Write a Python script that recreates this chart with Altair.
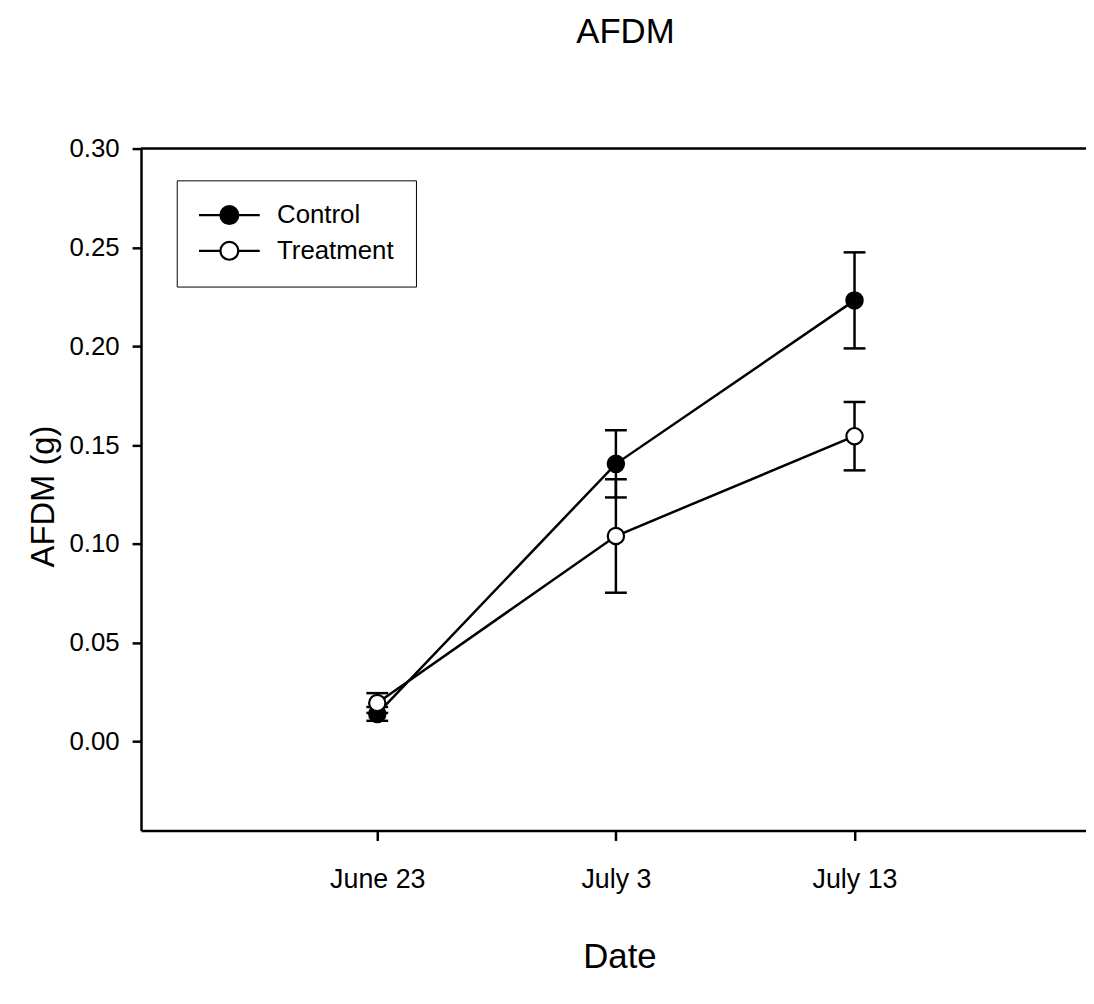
import altair as alt
import pandas as pd

# ---- data ----
date_labels = ["June 23", "July 3", "July 13"]
day_offsets = [0, 10, 20]            # days after June 23
series_names = ["Control", "Treatment"]
control_mean = [0.0140, 0.1405, 0.2232]
control_err = [0.0035, 0.0170, 0.0243]
treatment_mean = [0.0195, 0.1040, 0.1545]
treatment_err = [0.0050, 0.0287, 0.0173]
y_ticks = [0.00, 0.05, 0.10, 0.15, 0.20, 0.25, 0.30]

rows = []
for name, means, errs in zip(series_names, [control_mean, treatment_mean], [control_err, treatment_err]):
    for d, lab, m, e in zip(day_offsets, date_labels, means, errs):
        rows.append({"series": name, "day": d, "date": lab, "mean": m, "lo": m - e, "hi": m + e})
df = pd.DataFrame(rows)
frame_df = pd.DataFrame({"top": [max(y_ticks)]})

FONT = "Liberation Sans"
label_expr = " : ".join(
    f"datum.value == {d} ? '{lab}'" for d, lab in zip(day_offsets, date_labels)
) + " : ''"

x_scale = alt.Scale(domain=[-9.9, 29.7], nice=False, zero=False)
y_scale = alt.Scale(domain=[-0.045, 0.30], nice=False, zero=False)

x_axis = alt.Axis(
    values=day_offsets, labelExpr=label_expr, title="Date", grid=False,
    domainColor="black", domainWidth=2.5, tickColor="black", tickWidth=2.5, tickSize=10,
    labelFont=FONT, labelFontSize=27, labelColor="black", labelPadding=26,
    titleFont=FONT, titleFontSize=35, titleFontWeight="normal", titleColor="black",
    titleX=482, titleY=138, titleBaseline="alphabetic", titleAnchor="start", titleAlign="center",
)
y_axis = alt.Axis(
    values=y_ticks, format=".2f", title="AFDM (g)", grid=False,
    domainColor="black", domainWidth=2.5, tickColor="black", tickWidth=2.5, tickSize=9,
    labelFont=FONT, labelFontSize=26, labelColor="black", labelPadding=13,
    titleFont=FONT, titleFontSize=33, titleFontWeight="normal", titleColor="black",
    titleX=-88, titleY=350, titleBaseline="alphabetic", titleAngle=270, titleAlign="center",
)

X = alt.X("day:Q", scale=x_scale, axis=x_axis)

base = alt.Chart(df)

lines = base.mark_line(color="black", strokeWidth=2.5).encode(
    x=X,
    y=alt.Y("mean:Q", scale=y_scale, axis=y_axis, title="AFDM (g)"),
    detail="series:N",
)

err_rule = base.mark_rule(color="black", strokeWidth=2.5).encode(
    x=X,
    y=alt.Y("lo:Q", scale=y_scale, title="AFDM (g)"),
    y2="hi:Q",
)
cap_lo = base.mark_tick(color="black", orient="horizontal", size=22, thickness=2.5, opacity=1).encode(
    x=X, y=alt.Y("lo:Q", scale=y_scale, title="AFDM (g)"),
)
cap_hi = base.mark_tick(color="black", orient="horizontal", size=22, thickness=2.5, opacity=1).encode(
    x=X, y=alt.Y("hi:Q", scale=y_scale, title="AFDM (g)"),
)

legend_symbol = "M-3.4,0H-1M1,0H3.4M1,0A1,1,0,1,1,-1,0A1,1,0,1,1,1,0Z"

points = base.mark_point(filled=True, stroke="black", strokeWidth=2.2, size=270, opacity=1, shape="circle").encode(
    x=X,
    y=alt.Y("mean:Q", scale=y_scale, title="AFDM (g)"),
    fill=alt.Fill(
        "series:N",
        scale=alt.Scale(domain=series_names, range=["black", "white"]),
        legend=alt.Legend(
            title=None, orient="none", legendX=36, legendY=32,
            symbolType=legend_symbol, symbolSize=324,
            symbolStrokeColor="black", symbolStrokeWidth=2.2,
            symbolOffset=18, labelOffset=35,
            labelFont=FONT, labelFontSize=26, labelColor="black",
            padding=22, rowPadding=8,
            strokeColor="black",
        ),
    ),
)

top_border = alt.Chart(frame_df).mark_rule(color="black", strokeWidth=2.5).encode(
    y=alt.Y("top:Q", scale=y_scale, title="AFDM (g)"),
)

chart = (
    alt.layer(lines, err_rule, cap_lo, cap_hi, points, top_border)
    .properties(
        width=952,
        height=687,
        autosize=alt.AutoSizeParams(type="none"),
        padding={"left": 134, "top": 138, "right": 0, "bottom": 150},
        title=alt.TitleParams(
            "AFDM", font=FONT, fontSize=35, fontWeight="normal", color="black",
            anchor="middle", frame="group", offset=86, dx=12,
        ),
    )
    .configure_view(strokeWidth=0)
    .configure_legend(strokeWidth=2)
    .configure(background="white")
)

chart.save("out.html", embed_options={"renderer": "svg", "actions": False})
